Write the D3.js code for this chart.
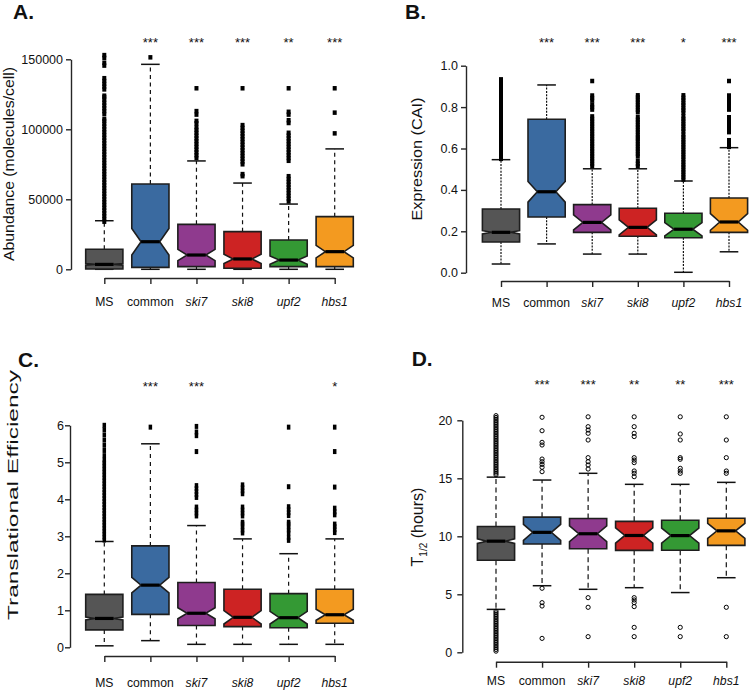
<!DOCTYPE html>
<html><head><meta charset="utf-8">
<script src="https://cdn.jsdelivr.net/npm/d3@7"></script>
<style>
body{margin:0;background:#fff}
svg{display:block}
text{font-family:"Liberation Sans",Arial,Helvetica,sans-serif;fill:#111}
</style>
</head><body>
<svg id="chart" width="750" height="690"></svg>
<script>
// ---------------- data ----------------
const groups = ["MS", "common", "ski7", "ski8", "upf2", "hbs1"];
const italicGroups = ["ski7", "ski8", "upf2", "hbs1"];
const groupColors = ["#555555", "#3A6AA0", "#8F3A8E", "#CD2323", "#349934", "#F39A20"];

// Panel A: Abundance (molecules/cell)
const aTicks = [0, 50000, 100000, 150000];
const aTickLabels = ["0", "50000", "100000", "150000"];
const aQ1 = [200, 1400, 1900, 700, 1900, 1900];
const aMed = [3500, 19700, 10200, 7400, 6600, 12600];
const aQ3 = [14300, 60900, 32100, 26900, 20900, 37600];
const aLo = [0, 0, 0, 0, 0, 0];
const aHi = [34700, 146400, 77400, 61600, 46600, 86000];
const aNotch = [600, 9500, 4000, 3300, 3000, 4500];
const aStars = ["", "***", "***", "***", "**", "***"];
const aOut = [
  [34000,36000,38000,40000,42000,44000,46000,48000,50000,52000,54000,56000,58000,60000,62000,64000,66000,68000,70000,72000,74000,76000,78000,80000,82000,84000,86000,88000,90000,92000,94000,96000,98000,100000,102000,104000,106000,107500,111000,113000,115000,117000,119000,121000,123000,124000,128500,130500,132500,134500,136500,145500,147500,151000,153000],
  [151400],
  [79500,81500,83500,85500,87500,89500,91500,93500,95500,97500,99500,101500,104300,106000,110500,113000,129300],
  [66500,68000,75000,77000,79000,81000,83000,85000,87000,89000,91000,93000,95000,97000,99000,101000,103000,129300],
  [48500,50500,52500,54500,56500,58500,60500,62500,64500,66500,77500,79500,81500,83500,85500,87500,89500,91500,93500,95500,97500,104500,106500,110500,112500,129300],
  [97100,111900,129300]
];

// Panel B: Expression (CAI)
const bTicks = [0, 0.2, 0.4, 0.6, 0.8, 1.0];
const bTickLabels = ["0.0", "0.2", "0.4", "0.6", "0.8", "1.0"];
const bQ1 = [0.148, 0.269, 0.195, 0.176, 0.169, 0.195];
const bMed = [0.195, 0.391, 0.243, 0.219, 0.210, 0.245];
const bQ3 = [0.308, 0.741, 0.329, 0.311, 0.287, 0.361];
const bLo = [0.042, 0.139, 0.090, 0.090, 0.002, 0.101];
const bHi = [0.546, 0.907, 0.502, 0.502, 0.443, 0.604];
const bNotch = [0.008, 0.05, 0.036, 0.036, 0.032, 0.04];
const bStars = ["", "***", "***", "***", "*", "***"];
const bOut = [
  [0.55,0.562,0.574,0.586,0.598,0.61,0.622,0.634,0.646,0.658,0.67,0.682,0.694,0.706,0.718,0.73,0.742,0.754,0.766,0.778,0.79,0.802,0.814,0.826,0.838,0.85,0.862,0.874,0.886,0.898,0.91,0.922,0.934],
  [],
  [0.515,0.527,0.539,0.551,0.563,0.575,0.587,0.599,0.611,0.623,0.635,0.647,0.659,0.671,0.683,0.695,0.707,0.719,0.731,0.743,0.755,0.788,0.8,0.812,0.832,0.844,0.856,0.926],
  [0.514,0.526,0.54,0.562,0.574,0.586,0.598,0.61,0.622,0.634,0.646,0.655,0.667,0.679,0.691,0.703,0.715,0.727,0.739,0.751,0.775,0.787,0.799,0.811,0.823,0.835,0.847,0.857],
  [0.45,0.462,0.474,0.486,0.498,0.51,0.522,0.534,0.547,0.559,0.571,0.583,0.595,0.607,0.619,0.631,0.643,0.655,0.667,0.683,0.695,0.707,0.719,0.731,0.743,0.755,0.773,0.785,0.797,0.809,0.821,0.833,0.845,0.857],
  [0.608,0.62,0.632,0.64,0.679,0.691,0.703,0.715,0.727,0.739,0.751,0.788,0.8,0.812,0.828,0.84,0.856,0.926]
];

// Panel C: Translational Efficiency
const cTicks = [0, 1, 2, 3, 4, 5, 6];
const cTickLabels = ["0", "1", "2", "3", "4", "5", "6"];
const cQ1 = [0.47, 0.89, 0.59, 0.56, 0.53, 0.65];
const cMed = [0.78, 1.68, 0.92, 0.81, 0.80, 0.88];
const cQ3 = [1.43, 2.74, 1.75, 1.57, 1.45, 1.57];
const cLo = [0.04, 0.18, 0.08, 0.08, 0.08, 0.08];
const cHi = [2.86, 5.50, 3.29, 2.93, 2.53, 2.93];
const cNotch = [0.04, 0.21, 0.15, 0.18, 0.17, 0.15];
const cStars = ["", "***", "***", "", "", "*"];
const cOut = [
  [2.9,2.98,3.06,3.14,3.22,3.3,3.38,3.46,3.54,3.62,3.7,3.78,3.86,3.94,4.02,4.1,4.18,4.26,4.34,4.42,4.5,4.58,4.66,4.74,4.82,4.9,4.98,5.06,5.18,5.32,5.46,5.6,5.74,5.88,6.0],
  [5.95],
  [3.55,3.63,3.71,3.79,4.05,4.13,4.21,4.29,4.37,5.29,5.72,5.82,5.97],
  [3.09,3.17,3.25,3.33,3.38,3.55,3.63,3.71,3.79,4.15,4.23,4.31,4.39],
  [2.89,2.97,3.09,3.17,3.25,3.33,3.38,3.56,3.64,3.72,3.8,4.34,5.95],
  [3.1,3.18,3.26,3.33,3.58,3.66,3.76,4.33,5.29,5.95]
];

// Panel D: T1/2 (hours)
const dTicks = [0, 5, 10, 15, 20];
const dTickLabels = ["0", "5", "10", "15", "20"];
const dQ1 = [7.93, 9.34, 8.93, 8.79, 8.80, 9.22];
const dMed = [9.58, 10.34, 10.22, 10.07, 10.06, 10.47];
const dQ3 = [10.85, 11.65, 11.53, 11.29, 11.38, 11.56];
const dLo = [3.70, 5.74, 5.43, 5.57, 5.15, 6.43];
const dHi = [15.10, 14.85, 15.43, 14.48, 14.48, 14.65];
const dNotch = [0.2, 0.69, 0.67, 0.65, 0.65, 0.65];
const dStars = ["", "***", "***", "**", "**", "***"];
const dOut = [
  [0.1,0.25,0.4,0.55,0.7,0.85,1.0,1.15,1.3,1.45,1.6,1.75,1.9,2.05,2.2,2.35,2.5,2.65,2.8,2.95,3.1,3.25,3.4,3.55,
   15.3,15.45,15.6,15.75,15.9,16.05,16.2,16.35,16.5,16.65,16.8,16.95,17.1,17.25,17.4,17.55,17.7,17.85,18.0,18.15,18.3,18.45,18.6,18.75,18.9,19.05,19.2,19.35,19.5,19.65,19.8,19.95,20.1,20.25,20.4],
  [20.26,19.1,18.1,17.87,16.66,16.43,16.2,15.95,15.57,5.52,4.28,3.99,1.2],
  [20.3,19.45,19.16,18.88,18.3,16.78,16.43,16.15,15.8,4.71,3.88,1.35],
  [20.3,19.45,18.88,18.6,16.78,16.57,16.35,15.63,15.43,15.14,4.71,4.51,4.28,3.94,2.15,1.35],
  [20.3,18.82,18.3,16.78,16.64,15.86,15.63,15.43,2.15,1.35],
  [20.3,18.3,16.78,15.63,15.43,3.88,1.35]
];

// ---------------- layout ----------------
const panels = [
  {title:"A.", tx:13, ty:19, xr:[104.3,334.7], yr:[269.3,59.3], dom:[0,150000],
   ticks:aTicks, tickLabels:aTickLabels, yAxisX:71, tlGap:8, xAxisY:278, labelY:306, starY:47,
   ylab:"Abundance (molecules/cell)", ylabX:14, ylabY:164, ylabSize:15, ylabLen:194,
   dash:"4,3.5", q1:aQ1, med:aMed, q3:aQ3, lo:aLo, hi:aHi, notch:aNotch, stars:aStars, out:aOut,
   marker:"square", mw:4, mh:4.5},
  {title:"B.", tx:405, ty:19, xr:[501,729], yr:[272.7,65.7], dom:[0,1],
   ticks:bTicks, tickLabels:bTickLabels, yAxisX:466, tlGap:8, xAxisY:281, labelY:307, starY:47,
   ylab:"Expression (CAI)", ylabX:422, ylabY:159, ylabSize:15.5, ylabLen:123,
   dash:"2,1.3", q1:bQ1, med:bMed, q3:bQ3, lo:bLo, hi:bHi, notch:bNotch, stars:bStars, out:bOut,
   marker:"square", mw:4, mh:4.5},
  {title:"C.", tx:18, ty:367, xr:[104.3,334.7], yr:[647.3,425.3], dom:[0,6],
   ticks:cTicks, tickLabels:cTickLabels, yAxisX:70, tlGap:6, xAxisY:656, labelY:686.5, starY:391,
   ylab:"Translational Efficiency", ylabX:18, ylabY:495, ylabSize:15.5, ylabLen:250,
   dash:"4,4", q1:cQ1, med:cMed, q3:cQ3, lo:cLo, hi:cHi, notch:cNotch, stars:cStars, out:cOut,
   marker:"square", mw:3.5, mh:5},
  {title:"D.", tx:411.7, ty:366, xr:[496,726.3], yr:[652.3,420.3], dom:[0,20],
   ticks:dTicks, tickLabels:dTickLabels, yAxisX:462.3, tlGap:10, xAxisY:661.7, labelY:685, starY:389,
   ylab:null, ylabX:423, ylabY:527, ylabSize:16, ylabLen:null,
   dash:"5,3.5", q1:dQ1, med:dMed, q3:dQ3, lo:dLo, hi:dHi, notch:dNotch, stars:dStars, out:dOut,
   marker:"circle", r:2.1}
];

const svg = d3.select("#chart");
const HW = 18.6;        // box half width
const AXC = "#262626";

function drawPanel(p) {
  const g = svg.append("g");
  const x = d3.scalePoint().domain(groups).range(p.xr);
  const y = d3.scaleLinear().domain(p.dom).range(p.yr);

  // title
  g.append("text").attr("x", p.tx).attr("y", p.ty)
    .attr("font-size", 21).attr("font-weight", "bold").text(p.title);

  // y axis
  const yAxis = d3.axisLeft(y).tickValues(p.ticks).tickFormat((d, i) => p.tickLabels[i])
    .tickSizeOuter(0).tickSizeInner(5).tickPadding(p.tlGap - 5);
  const ya = g.append("g").attr("transform", `translate(${p.yAxisX},0)`).call(yAxis);
  ya.select(".domain").attr("stroke", AXC).attr("stroke-width", 1.4);
  ya.selectAll(".tick line").attr("stroke", AXC).attr("stroke-width", 1.4);
  ya.selectAll(".tick text").attr("font-size", 12.5).attr("fill", "#111")
    .style("font-family", '"Liberation Sans",Arial,sans-serif');

  // x axis
  const xAxis = d3.axisBottom(x).tickSizeOuter(0).tickSizeInner(6).tickFormat("");
  const xa = g.append("g").attr("transform", `translate(0,${p.xAxisY})`).call(xAxis);
  xa.select(".domain").attr("stroke", AXC).attr("stroke-width", 1.4);
  xa.selectAll(".tick line").attr("stroke", AXC).attr("stroke-width", 1.4);
  g.selectAll(".xlab").data(groups).enter().append("text")
    .attr("x", d => x(d)).attr("y", p.labelY).attr("text-anchor", "middle")
    .attr("font-size", 12.2)
    .attr("font-style", d => italicGroups.includes(d) ? "italic" : "normal")
    .text(d => d);

  // y axis title
  const yl = g.append("text")
    .attr("transform", `translate(${p.ylabX},${p.ylabY}) rotate(-90)`)
    .attr("text-anchor", "middle").attr("font-size", p.ylabSize);
  if (p.ylab) {
    yl.text(p.ylab);
    if (p.ylabLen) yl.attr("textLength", p.ylabLen).attr("lengthAdjust", "spacingAndGlyphs");
  } else {
    yl.append("tspan").text("T");
    yl.append("tspan").attr("font-size", 10).attr("dy", 4).text("1/2");
    yl.append("tspan").attr("dy", -4).text(" (hours)");
  }

  // stars
  g.selectAll(".star").data(groups).enter().append("text")
    .attr("x", d => x(d)).attr("y", p.starY).attr("text-anchor", "middle")
    .attr("font-size", 13).text((d, i) => p.stars[i]);

  groups.forEach((grp, i) => {
    const cx = x(grp);
    const wl = g.append("g").attr("stroke", "#111").attr("stroke-width", 1.2);
    // whiskers
    wl.append("line").attr("x1", cx).attr("x2", cx).attr("y1", y(p.q3[i])).attr("y2", y(p.hi[i]))
      .attr("stroke-dasharray", p.dash);
    wl.append("line").attr("x1", cx).attr("x2", cx).attr("y1", y(p.q1[i])).attr("y2", y(p.lo[i]))
      .attr("stroke-dasharray", p.dash);
    // staples
    wl.append("line").attr("x1", cx - HW / 2).attr("x2", cx + HW / 2)
      .attr("y1", y(p.hi[i])).attr("y2", y(p.hi[i])).attr("stroke-width", 1.5);
    wl.append("line").attr("x1", cx - HW / 2).attr("x2", cx + HW / 2)
      .attr("y1", y(p.lo[i])).attr("y2", y(p.lo[i])).attr("stroke-width", 1.5);

    // notched box
    const nlo = p.med[i] - p.notch[i], nhi = p.med[i] + p.notch[i];
    const pts = [
      [cx - HW, y(p.q1[i])], [cx - HW, y(nlo)], [cx - HW / 2, y(p.med[i])], [cx - HW, y(nhi)],
      [cx - HW, y(p.q3[i])], [cx + HW, y(p.q3[i])], [cx + HW, y(nhi)], [cx + HW / 2, y(p.med[i])],
      [cx + HW, y(nlo)], [cx + HW, y(p.q1[i])]
    ];
    g.append("path").attr("d", d3.line()(pts) + "Z")
      .attr("fill", groupColors[i]).attr("stroke", "#1e1e1e").attr("stroke-width", 1.6)
      .attr("stroke-linejoin", "miter");
    // median
    g.append("line").attr("x1", cx - HW / 2).attr("x2", cx + HW / 2)
      .attr("y1", y(p.med[i])).attr("y2", y(p.med[i]))
      .attr("stroke", "#000").attr("stroke-width", 3.2);

    // outliers
    const og = g.append("g");
    if (p.marker === "square") {
      og.selectAll("rect").data(p.out[i]).enter().append("rect")
        .attr("x", cx - p.mw / 2).attr("y", v => y(v) - p.mh / 2)
        .attr("width", p.mw).attr("height", p.mh).attr("fill", "#000");
    } else {
      og.selectAll("circle").data(p.out[i]).enter().append("circle")
        .attr("cx", cx).attr("cy", v => y(v)).attr("r", p.r)
        .attr("fill", "none").attr("stroke", "#000").attr("stroke-width", 1);
    }
  });
}

panels.forEach(drawPanel);
</script>
</body></html>
